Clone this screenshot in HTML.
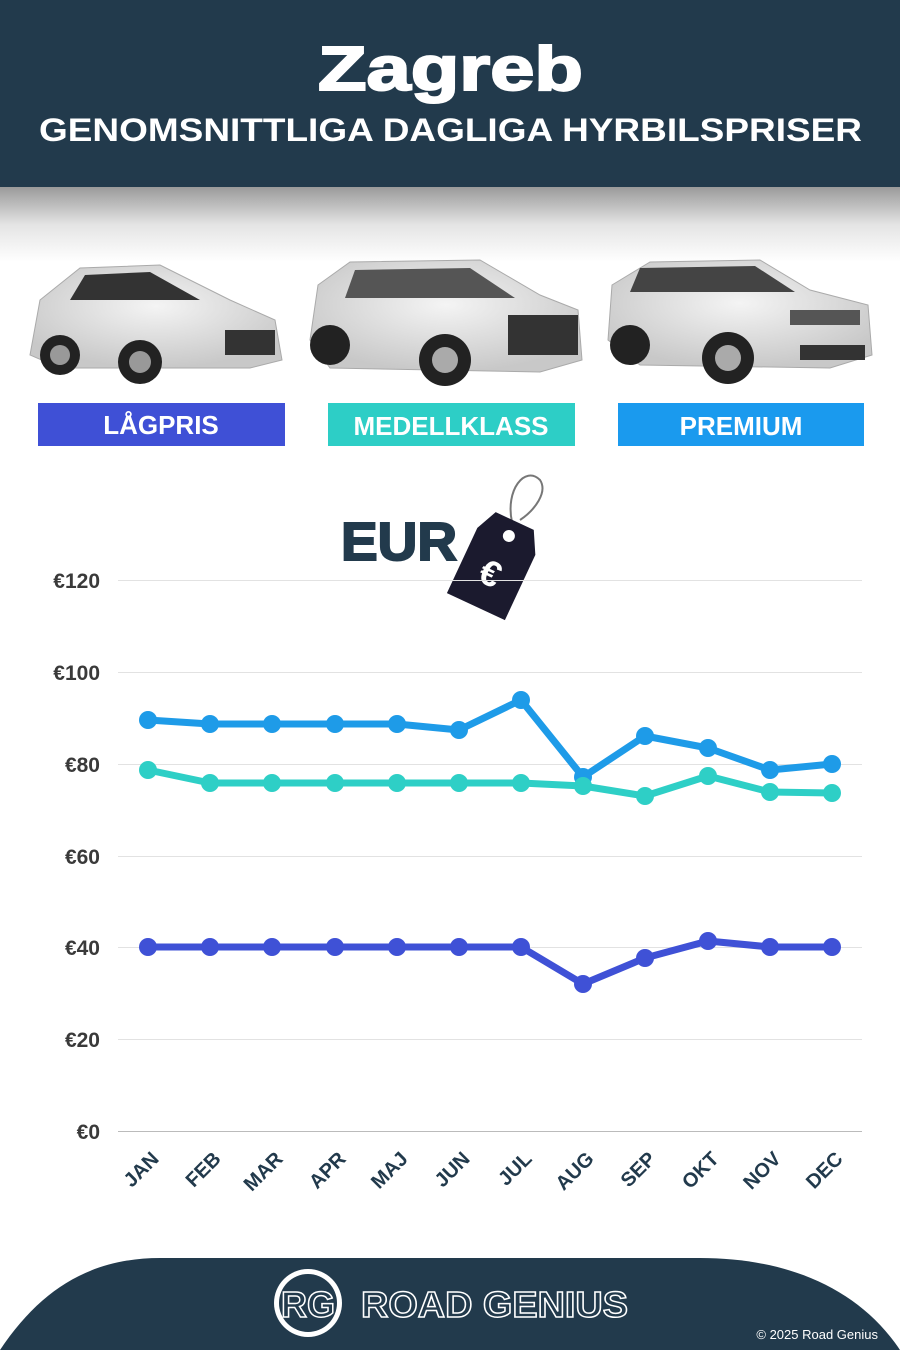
<!DOCTYPE html>
<html><head><meta charset="utf-8"><style>
body{margin:0;width:900px;height:1350px;overflow:hidden;background:#fff;font-family:"Liberation Sans",sans-serif}
</style></head><body>
<svg width="900" height="1350" viewBox="0 0 900 1350" xmlns="http://www.w3.org/2000/svg" font-family="Liberation Sans, sans-serif">
<defs>
<linearGradient id="sh" x1="0" y1="0" x2="0" y2="1"><stop offset="0" stop-color="#9a9a9a"/><stop offset="0.5" stop-color="#e4e4e4"/><stop offset="1" stop-color="#fff"/></linearGradient>
<radialGradient id="car" cx="0.5" cy="0.4" r="0.6"><stop offset="0" stop-color="#f4f4f4"/><stop offset="1" stop-color="#c8c8c8"/></radialGradient>
</defs>
<rect x="0" y="0" width="900" height="187" fill="#223a4c"/>
<rect x="0" y="187" width="900" height="75" fill="url(#sh)"/>
<text x="318" y="90" textLength="265" lengthAdjust="spacingAndGlyphs" font-size="62" font-weight="900" fill="#fff" stroke="#fff" stroke-width="2">Zagreb</text>
<text x="39" y="141" textLength="823" lengthAdjust="spacingAndGlyphs" font-size="32" font-weight="bold" fill="#fff">GENOMSNITTLIGA DAGLIGA HYRBILSPRISER</text>
<g>
<path d="M30 355 L40 300 L80 268 L160 265 L230 300 L275 320 L282 360 L250 368 L60 368 Z" fill="url(#car)" stroke="#aaa"/>
<path d="M85 275 L150 272 L200 300 L70 300 Z" fill="#333"/>
<circle cx="60" cy="355" r="20" fill="#222"/><circle cx="140" cy="362" r="22" fill="#222"/>
<circle cx="60" cy="355" r="10" fill="#999"/><circle cx="140" cy="362" r="11" fill="#999"/>
<rect x="225" y="330" width="50" height="25" fill="#333"/>
</g>
<g>
<path d="M310 340 L318 285 L350 262 L480 260 L540 295 L578 310 L582 360 L540 372 L330 368 Z" fill="url(#car)" stroke="#aaa"/>
<path d="M355 270 L470 268 L515 298 L345 298 Z" fill="#555"/>
<rect x="508" y="315" width="70" height="40" fill="#333"/>
<circle cx="330" cy="345" r="20" fill="#222"/><circle cx="445" cy="360" r="26" fill="#222"/>
<circle cx="445" cy="360" r="13" fill="#aaa"/>
</g>
<g>
<path d="M608 340 L612 285 L650 262 L760 260 L810 290 L868 305 L872 355 L830 368 L640 365 Z" fill="url(#car)" stroke="#aaa"/>
<path d="M640 268 L755 266 L795 292 L630 292 Z" fill="#444"/>
<rect x="790" y="310" width="70" height="15" fill="#555"/>
<rect x="800" y="345" width="65" height="15" fill="#333"/>
<circle cx="630" cy="345" r="20" fill="#222"/><circle cx="728" cy="358" r="26" fill="#222"/>
<circle cx="728" cy="358" r="13" fill="#aaa"/>
</g>
<rect x="38" y="403" width="247" height="43" fill="#3f50d6"/>
<rect x="328" y="403" width="247" height="43" fill="#2dcec6"/>
<rect x="618" y="403" width="246" height="43" fill="#1a9aee"/>
<text x="161" y="434" text-anchor="middle" font-size="26" font-weight="bold" fill="#fff">LÅGPRIS</text>
<text x="451" y="435" text-anchor="middle" font-size="26" font-weight="bold" fill="#fff">MEDELLKLASS</text>
<text x="741" y="435" text-anchor="middle" font-size="26" font-weight="bold" fill="#fff">PREMIUM</text>
<text x="341" y="560" textLength="116" lengthAdjust="spacingAndGlyphs" font-size="54" font-weight="900" fill="#223a4c" stroke="#223a4c" stroke-width="2">EUR</text>
<path d="M512 522 C505 490 525 465 540 480 C548 492 535 510 520 520" fill="none" stroke="#777" stroke-width="2"/>
<g transform="rotate(25 500 555)">
<path d="M478 518 L520 518 L532 540 L532 612 L468 612 L468 540 Z" fill="#1b1a2e"/>
<circle cx="500" cy="534" r="6" fill="#fff"/>
<text x="499" y="588" text-anchor="middle" font-size="36" font-weight="bold" fill="#fff">€</text>
</g>
<g stroke="#e2e2e2" stroke-width="1">
<line x1="118" x2="862" y1="580.5" y2="580.5"/><line x1="118" x2="862" y1="672.5" y2="672.5"/>
<line x1="118" x2="862" y1="764.5" y2="764.5"/><line x1="118" x2="862" y1="856.5" y2="856.5"/>
<line x1="118" x2="862" y1="947.5" y2="947.5"/><line x1="118" x2="862" y1="1039.5" y2="1039.5"/>
</g>
<line x1="118" x2="862" y1="1131.5" y2="1131.5" stroke="#bbb"/>
<g font-size="21" font-weight="900" fill="#3a3a3a" text-anchor="end">
<text x="100" y="588">€120</text><text x="100" y="680">€100</text><text x="100" y="772">€80</text>
<text x="100" y="864">€60</text><text x="100" y="955">€40</text><text x="100" y="1047">€20</text><text x="100" y="1139">€0</text>
</g>
<g fill="none" stroke-width="7" stroke-linejoin="round" stroke-linecap="round">
<polyline stroke="#1e9be8" points="148,720 210,724 272,724 335,724 397,724 459,730 521,700 583,777 645,736 708,748 770,770 832,764"/>
<polyline stroke="#2ecfc6" points="148,770 210,783 272,783 335,783 397,783 459,783 521,783 583,786 645,796 708,776 770,792 832,793"/>
<polyline stroke="#3f51d6" points="148,947 210,947 272,947 335,947 397,947 459,947 521,947 583,984 645,958 708,941 770,947 832,947"/>
</g>
<g fill="#1e9be8"><circle cx="148" cy="720" r="9"/><circle cx="210" cy="724" r="9"/><circle cx="272" cy="724" r="9"/><circle cx="335" cy="724" r="9"/><circle cx="397" cy="724" r="9"/><circle cx="459" cy="730" r="9"/><circle cx="521" cy="700" r="9"/><circle cx="583" cy="777" r="9"/><circle cx="645" cy="736" r="9"/><circle cx="708" cy="748" r="9"/><circle cx="770" cy="770" r="9"/><circle cx="832" cy="764" r="9"/></g>
<g fill="#2ecfc6"><circle cx="148" cy="770" r="9"/><circle cx="210" cy="783" r="9"/><circle cx="272" cy="783" r="9"/><circle cx="335" cy="783" r="9"/><circle cx="397" cy="783" r="9"/><circle cx="459" cy="783" r="9"/><circle cx="521" cy="783" r="9"/><circle cx="583" cy="786" r="9"/><circle cx="645" cy="796" r="9"/><circle cx="708" cy="776" r="9"/><circle cx="770" cy="792" r="9"/><circle cx="832" cy="793" r="9"/></g>
<g fill="#3f51d6"><circle cx="148" cy="947" r="9"/><circle cx="210" cy="947" r="9"/><circle cx="272" cy="947" r="9"/><circle cx="335" cy="947" r="9"/><circle cx="397" cy="947" r="9"/><circle cx="459" cy="947" r="9"/><circle cx="521" cy="947" r="9"/><circle cx="583" cy="984" r="9"/><circle cx="645" cy="958" r="9"/><circle cx="708" cy="941" r="9"/><circle cx="770" cy="947" r="9"/><circle cx="832" cy="947" r="9"/></g>
<g font-size="20" font-weight="900" fill="#223a4c" text-anchor="end">
<text transform="translate(160,1160) rotate(-45)">JAN</text>
<text transform="translate(222,1160) rotate(-45)">FEB</text>
<text transform="translate(284,1160) rotate(-45)">MAR</text>
<text transform="translate(347,1160) rotate(-45)">APR</text>
<text transform="translate(409,1160) rotate(-45)">MAJ</text>
<text transform="translate(471,1160) rotate(-45)">JUN</text>
<text transform="translate(533,1160) rotate(-45)">JUL</text>
<text transform="translate(595,1160) rotate(-45)">AUG</text>
<text transform="translate(657,1160) rotate(-45)">SEP</text>
<text transform="translate(720,1160) rotate(-45)">OKT</text>
<text transform="translate(782,1160) rotate(-45)">NOV</text>
<text transform="translate(844,1160) rotate(-45)">DEC</text>
</g>
<path d="M0 1350 C40 1290 90 1258 160 1258 L700 1258 C790 1258 860 1290 900 1350 Z" fill="#223a4c"/>
<circle cx="308" cy="1303" r="34" fill="#fff"/>
<circle cx="308" cy="1303" r="29" fill="#223a4c"/>
<text x="308" y="1317" text-anchor="middle" font-size="36" font-weight="bold" fill="none" stroke="#fff" stroke-width="1.5">RG</text>
<text x="361" y="1317" textLength="267" lengthAdjust="spacingAndGlyphs" font-size="36" font-weight="bold" fill="none" stroke="#fff" stroke-width="1.5">ROAD GENIUS</text>
<text x="878" y="1339" text-anchor="end" font-size="13" fill="#fff">© 2025 Road Genius</text>
</svg>
</body></html>
